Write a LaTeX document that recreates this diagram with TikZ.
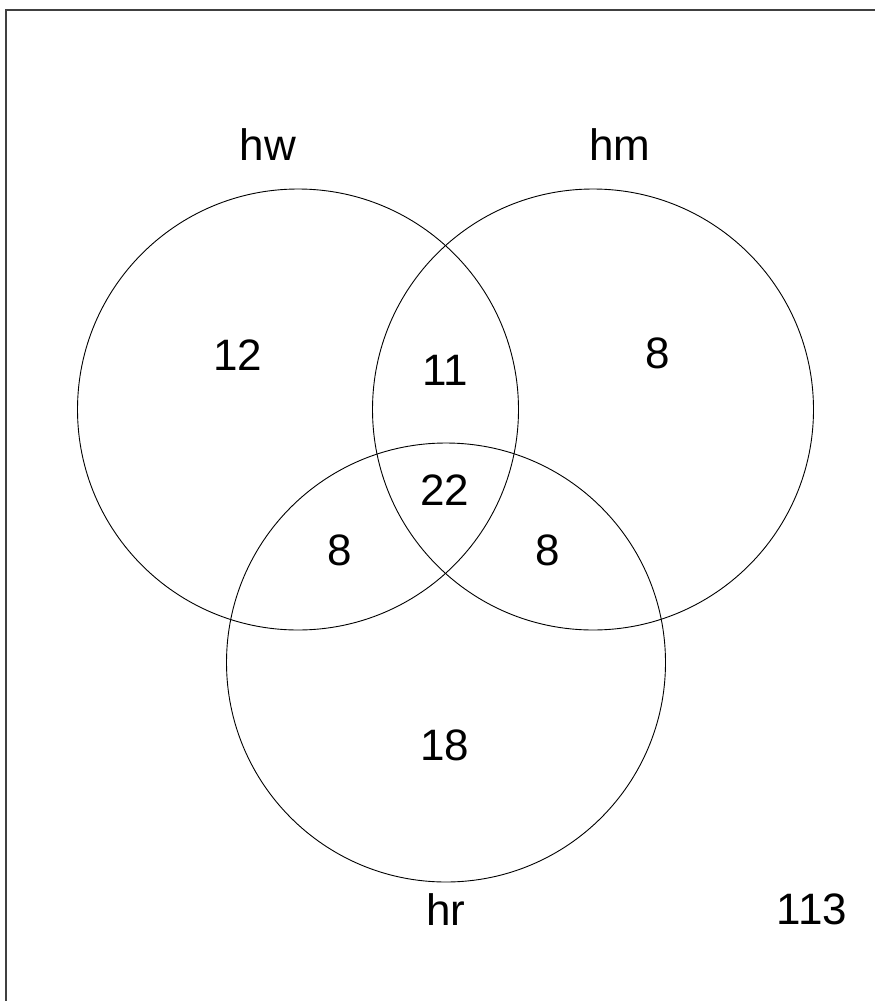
\documentclass[tikz,border=0pt]{standalone}
\usepackage{fontspec}
\setmainfont{Liberation Sans}
\begin{document}
\begin{tikzpicture}[x=1pt,y=-1pt,
  setcircle/.style={draw=black, line width=0.9pt},
  lbl/.style={font=\fontsize{44}{48}\selectfont, inner sep=0pt},
  frameline/.style={draw=black!75, line width=2pt}]
\useasboundingbox (0,0) rectangle (875,1001);
\draw[frameline] (6,1010) -- (6,9.5) -- (880,9.5);
\node[setcircle, circle, minimum size=441pt, inner sep=0pt] (hw) at (298,409.5) {};
\node[setcircle, circle, minimum size=441pt, inner sep=0pt] (hm) at (593,409.5) {};
\node[setcircle, circle, minimum size=439pt, inner sep=0pt] (hr) at (446,662.5) {};
\node[lbl] (lhw) at (268,145) {hw};
\node[lbl] (lhm) at (620,145) {hm};
\node[lbl] (lhr) at (446,910) {hr};
\node[lbl] (n12) at (238,355) {12};
\node[lbl] (n11) at (445,370) {11};
\node[lbl] (n8a) at (658,353) {8};
\node[lbl] (n22) at (445,490) {22};
\node[lbl] (n8b) at (340,550) {8};
\node[lbl] (n8c) at (548,550) {8};
\node[lbl] (n18) at (445,745) {18};
\node[lbl] (n113) at (812,909) {113};
\end{tikzpicture}
\end{document}
